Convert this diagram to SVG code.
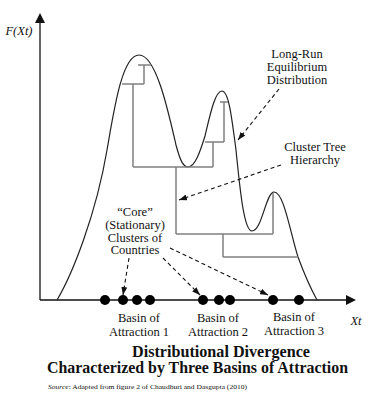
<svg xmlns="http://www.w3.org/2000/svg" width="368" height="404" viewBox="0 0 368 404">
<defs>
<marker id="ah" viewBox="0 0 8 6" refX="8" refY="3" markerWidth="8" markerHeight="6" markerUnits="userSpaceOnUse" orient="auto">
<path d="M0,0 L8,3 L0,6 Z" fill="#111"/>
</marker>
<style>
text{font-family:'Liberation Serif','DejaVu Serif',serif}
.lbl{font-size:12.5px;fill:#111;text-anchor:middle}
.it{font-style:italic}
.ttl{font-size:16px;font-weight:bold;fill:#111;text-anchor:middle}
.src{font-size:7px;fill:#111}
.axis{stroke:#111;stroke-width:1.3;fill:none}
.curve{stroke:#222;stroke-width:1.2;fill:none}
.tree{stroke:#808080;stroke-width:1.5;fill:none}
.dash{stroke:#111;stroke-width:1.1;stroke-dasharray:4,3;fill:none}
.dot{fill:#000}
</style>
</defs>
<rect width="368" height="404" fill="#fff"/>
<g id="axes">
<line class="axis" x1="40" y1="300" x2="40" y2="22"/>
<path d="M40,13 L35,23 L45,23 Z" fill="#111"/>
<line class="axis" x1="40" y1="300" x2="347" y2="300"/>
<path d="M356,300 L346,295 L346,305 Z" fill="#111"/>
<text class="lbl it" x="19" y="35">F(Xt)</text>
<text class="lbl it" x="356" y="325">Xt</text>
</g>
<g id="distribution">
<path class="curve" d="M57,300 C72,275 96,215 107,150 C114,110 122,55 139,55 C156,55 168,110 176,145 C180,160 183,167 188,167 C195,167 200,152 205,136 C210,115 215,91 222,91 C229,91 232,120 236,150 C240,190 244,231 252,231 C262,231 266,192 274,192 C284,192 290,232 298,257 C305,276 311,289 317,300"/>
</g>
<g id="cluster-tree">
<path class="tree" d="M138,65 H151 M144,65 V84 M122,84 H144 M133,84 V167"/>
<path class="tree" d="M220,102 H228 M224,102 V142 M205,142 H224 M213,142 V167"/>
<path class="tree" d="M133,167 H213 M176,167 V234 M176,234 H273 M273,193 V234 M223,234 V257 M223,257 H298"/>
</g>
<g id="points">
<circle class="dot" cx="105" cy="300" r="5"/>
<circle class="dot" cx="123" cy="300" r="5"/>
<circle class="dot" cx="137" cy="300" r="5"/>
<circle class="dot" cx="150" cy="300" r="5"/>
<circle class="dot" cx="203" cy="300" r="5"/>
<circle class="dot" cx="219" cy="300" r="5"/>
<circle class="dot" cx="230" cy="300" r="5"/>
<circle class="dot" cx="273" cy="300" r="5"/>
<circle class="dot" cx="299" cy="300" r="5"/>
</g>
<g id="label-longrun">
<text class="lbl" x="297" y="58">Long-Run</text>
<text class="lbl" x="297" y="71">Equilibrium</text>
<text class="lbl" x="297" y="84">Distribution</text>
</g>
<g id="label-cluster">
<text class="lbl" x="315" y="151">Cluster Tree</text>
<text class="lbl" x="315" y="164">Hierarchy</text>
</g>
<g id="label-core">
<text class="lbl" x="135" y="216">“Core”</text>
<text class="lbl" x="135" y="229">(Stationary)</text>
<text class="lbl" x="135" y="241.5">Clusters of</text>
<text class="lbl" x="135" y="254">Countries</text>
</g>
<g id="label-basins">
<text class="lbl" x="139" y="322">Basin of</text>
<text class="lbl" x="139" y="336">Attraction 1</text>
<text class="lbl" x="218" y="322">Basin of</text>
<text class="lbl" x="218" y="336">Attraction 2</text>
<text class="lbl" x="294" y="321">Basin of</text>
<text class="lbl" x="294" y="335">Attraction 3</text>
</g>
<g id="title">
<text class="ttl" x="221" y="357" textLength="178" lengthAdjust="spacingAndGlyphs">Distributional Divergence</text>
<text class="ttl" x="197.5" y="373" textLength="301" lengthAdjust="spacingAndGlyphs">Characterized by Three Basins of Attraction</text>
<text class="src" x="48" y="389" textLength="199" lengthAdjust="spacingAndGlyphs"><tspan font-style="italic">Source</tspan>: Adapted from figure 2 of Chaudhuri and Dasgupta  (2010)</text>
</g>
<g id="connectors">
<line class="dash" x1="279" y1="89" x2="238" y2="140" marker-end="url(#ah)"/>
<line class="dash" x1="281" y1="165" x2="179" y2="200" marker-end="url(#ah)"/>
<line class="dash" x1="129" y1="258" x2="123" y2="295" marker-end="url(#ah)"/>
<line class="dash" x1="163" y1="258" x2="200" y2="295" marker-end="url(#ah)"/>
<line class="dash" x1="170" y1="248" x2="268" y2="295" marker-end="url(#ah)"/>
</g>
</svg>
